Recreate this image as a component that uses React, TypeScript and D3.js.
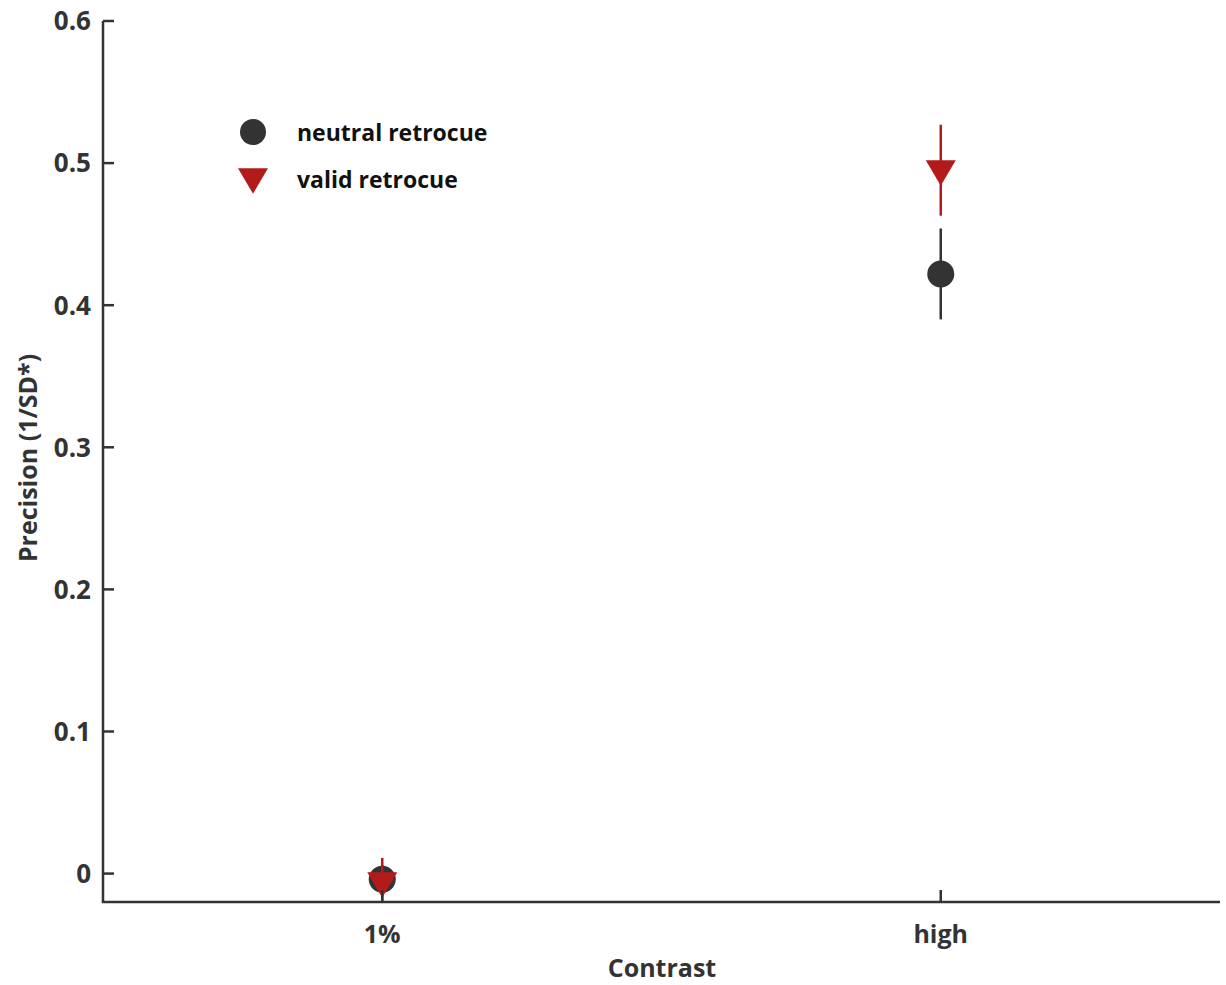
import React from "react";
import * as d3 from "d3";

const categories = ["1%", "high"];
const neutralMean = [-0.004, 0.422];
const neutralLo = [-0.014, 0.39];
const neutralHi = [0.006, 0.454];
const validMean = [-0.008, 0.493];
const validLo = [-0.028, 0.463];
const validHi = [0.011, 0.527];
const yTicks = [0, 0.1, 0.2, 0.3, 0.4, 0.5, 0.6];

const W = 1226, H = 985;
const DARK = "#333333";
const RED = "#b31b1b";
const FONT = "'Open Sans', Lato, sans-serif";

export default function App() {
  const x = d3.scaleLinear().domain([0.5, 2.5]).range([103, 1220]);
  const y = d3.scaleLinear().domain([-0.02, 0.6]).range([902, 21]);
  const tri = (cx: number, cy: number, s: number) =>
    `M${cx - s},${cy - s * 0.85} L${cx + s},${cy - s * 0.85} L${cx},${cy + s * 0.85} Z`;
  return (
    <svg width={W} height={H} style={{ position: "absolute", left: 0, top: 0, background: "#fff" }}>
      <defs>
        <clipPath id="plotclip">
          <rect x={x(0.5)} y={y(0.6)} width={x(2.5) - x(0.5)} height={y(-0.02) - y(0.6)} />
        </clipPath>
      </defs>
      {/* data */}
      <g clipPath="url(#plotclip)">
        {categories.map((c, i) => (
          <g key={"n" + c}>
            <line x1={x(i + 1)} x2={x(i + 1)} y1={y(neutralLo[i])} y2={y(neutralHi[i])} stroke={DARK} strokeWidth={2.5} />
            <circle cx={x(i + 1)} cy={y(neutralMean[i])} r={13.5} fill={DARK} />
          </g>
        ))}
        {categories.map((c, i) => (
          <g key={"v" + c}>
            <line x1={x(i + 1)} x2={x(i + 1)} y1={y(validLo[i])} y2={y(validHi[i])} stroke={RED} strokeWidth={2.5} />
            <path d={tri(x(i + 1), y(validMean[i]), 15)} fill={RED} />
          </g>
        ))}
      </g>
      {/* axes */}
      <line x1={x(0.5)} x2={x(0.5)} y1={y(0.6)} y2={y(-0.02)} stroke={DARK} strokeWidth={2.5} />
      <line x1={x(0.5) - 1.25} x2={x(2.5)} y1={y(-0.02)} y2={y(-0.02)} stroke={DARK} strokeWidth={2.5} />
      {yTicks.map((t) => (
        <g key={t}>
          <line x1={x(0.5)} x2={x(0.5) + 11} y1={y(t)} y2={y(t)} stroke={DARK} strokeWidth={2.5} />
          <text x={x(0.5) - 12} y={y(t)} dy="0.36em" textAnchor="end" fontFamily={FONT} fontWeight="bold" fontSize={26} fill={DARK}>
            {t === 0 ? "0" : t.toFixed(1)}
          </text>
        </g>
      ))}
      {categories.map((c, i) => (
        <g key={c}>
          <line x1={x(i + 1)} x2={x(i + 1)} y1={y(-0.02)} y2={y(-0.02) - 12} stroke={DARK} strokeWidth={2.5} />
          <text x={x(i + 1)} y={943} textAnchor="middle" fontFamily={FONT} fontWeight="bold" fontSize={25} fill={DARK}>
            {c}
          </text>
        </g>
      ))}
      <text x={662} y={977} textAnchor="middle" fontFamily={FONT} fontWeight="bold" fontSize={25} fill={DARK}>
        Contrast
      </text>
      <text transform={`translate(37,458) rotate(-90)`} textAnchor="middle" fontFamily={FONT} fontWeight="bold" fontSize={25} fill={DARK}>
        Precision (1/SD*)
      </text>
      {/* legend */}
      <circle cx={253} cy={132} r={13} fill={DARK} />
      <path d={tri(253, 181, 15)} fill={RED} />
      <text x={297} y={133} dy="0.35em" fontFamily={FONT} fontWeight="bold" fontSize={23} fill="#111">
        neutral retrocue
      </text>
      <text x={297} y={180} dy="0.35em" fontFamily={FONT} fontWeight="bold" fontSize={23} fill="#111">
        valid retrocue
      </text>
    </svg>
  );
}
